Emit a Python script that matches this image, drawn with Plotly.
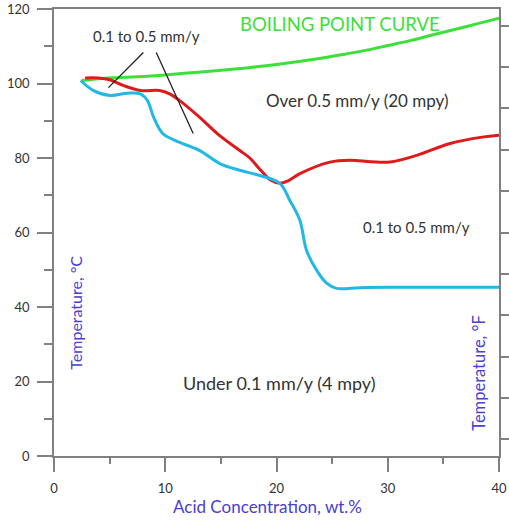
import plotly.graph_objects as go

# Boiling point curve
bp_x = [2.5, 4, 6, 8, 10, 12, 14, 16, 18, 20, 22, 24, 26, 28, 30, 32, 34, 36, 38, 40]
bp_y = [100.8, 101.3, 101.6, 101.9, 102.3, 102.8, 103.3, 103.8, 104.4, 105.1, 105.9, 106.8,
        107.8, 108.9, 110.2, 111.5, 113.0, 114.5, 116.0, 117.5]

# 0.5 mm/y iso-corrosion curve (red)
red_x = [2.8, 4.0, 5.0, 6.2, 7.8, 9.5, 10.4, 11.3, 13.1, 14.7, 16.7, 17.6, 18.5, 19.5, 20.3,
         21.0, 22.1, 24.8, 26.6, 28.5, 30.2, 32.6, 35.6, 38.5, 40.0]
red_y = [101.5, 101.5, 101.0, 99.5, 98.1, 98.1, 97.2, 95.4, 90.9, 86.5, 82.0, 80.0, 77.0, 74.0,
         73.2, 73.8, 75.8, 78.9, 79.4, 79.0, 78.9, 80.7, 83.9, 85.6, 86.1]

# 0.1 mm/y iso-corrosion curve (blue)
blue_x = [2.4, 3.55, 5.07, 6.6, 7.76, 8.4, 8.95, 9.8, 11.3, 13.1, 14.9, 16.7, 18.5, 20.3, 21.2,
          22.1, 22.7, 23.6, 24.5, 25.4, 27.5, 30, 35, 40]
blue_y = [100.8, 98.1, 96.8, 97.4, 97.2, 95.4, 91.0, 86.5, 84.2, 82.0, 78.5, 76.7, 75.3, 73.2,
          68.6, 63.3, 55.2, 49.9, 46.4, 45.0, 45.2, 45.3, 45.3, 45.3]

# Region labels
label_text = ["BOILING POINT CURVE", "0.1 to 0.5 mm/y", "Over 0.5 mm/y (20 mpy)",
              "0.1 to 0.5 mm/y", "Under 0.1 mm/y (4 mpy)"]
label_x = [25.7, 8.3, 27.3, 32.6, 20.3]
label_y = [116.1, 112.8, 95.4, 61.6, 19.6]
label_size = [18.5, 15, 17, 15, 18]

# Leader lines (x0, y0, x1, y1)
leaders = [(8.03, 108.3, 4.89, 98.9), (9.19, 108.3, 12.51, 86.6)]

fahrenheit_ticks = list(range(40, 241, 20))

font_family = "Lato, 'Open Sans', sans-serif"
axis_title_color = "#4a40d2"
text_color = "#333333"
axis_color = "#808080"
green = "#3ddf3a"

fig = go.Figure()
fig.add_trace(go.Scatter(x=bp_x, y=bp_y, mode="lines", line=dict(color=green, width=3, shape="spline"),
                         showlegend=False, hoverinfo="skip"))
fig.add_trace(go.Scatter(x=red_x, y=red_y, mode="lines", line=dict(color="#e01a1c", width=3, shape="spline"),
                         showlegend=False, hoverinfo="skip"))
fig.add_trace(go.Scatter(x=blue_x, y=blue_y, mode="lines", line=dict(color="#22b8e6", width=3, shape="spline"),
                         showlegend=False, hoverinfo="skip"))
# dummy trace to anchor the Fahrenheit axis
fig.add_trace(go.Scatter(x=[None], y=[None], yaxis="y2", showlegend=False, hoverinfo="skip"))

for i, (t, x, y, s) in enumerate(zip(label_text, label_x, label_y, label_size)):
    color = green if i == 0 else text_color
    fig.add_annotation(x=x, y=y, text=t, showarrow=False,
                       font=dict(family=font_family, size=s, color=color))

for x0, y0, x1, y1 in leaders:
    fig.add_shape(type="line", x0=x0, y0=y0, x1=x1, y1=y1, line=dict(color="#222222", width=1.3))

fig.add_annotation(x=1.93, y=38.6, text="Temperature, °C", textangle=-90, showarrow=False,
                   font=dict(family=font_family, size=16, color=axis_title_color))
fig.add_annotation(x=38.25, y=22.2, text="Temperature, °F", textangle=-90, showarrow=False,
                   font=dict(family=font_family, size=16.5, color=axis_title_color))
fig.add_annotation(xref="paper", yref="paper", x=0.479, y=-0.114, text="Acid Concentration, wt.%",
                   showarrow=False, yanchor="middle",
                   font=dict(family=font_family, size=17, color=axis_title_color))

fig.update_layout(
    width=509, height=522,
    margin=dict(l=54, r=10, t=9, b=66),
    paper_bgcolor="white", plot_bgcolor="white",
    font=dict(family=font_family, color=text_color, size=12),
    xaxis=dict(range=[0, 40], tickvals=[0, 10, 20, 30, 40], showgrid=False, zeroline=False,
               automargin=False,
               showline=True, linecolor=axis_color, linewidth=1.5, mirror=True,
               ticks="outside", ticklen=14, tickwidth=1.5, tickcolor=axis_color,
               ticklabelstandoff=6, ticklabeloverflow="allow",
               minor=dict(dtick=5, ticks="outside", ticklen=6, tickwidth=1.5, tickcolor=axis_color),
               tickfont=dict(size=13, color=text_color)),
    yaxis=dict(range=[0, 120], tickvals=[0, 20, 40, 60, 80, 100, 120], showgrid=False, zeroline=False,
               automargin=False,
               showline=True, linecolor=axis_color, linewidth=1.5,
               ticks="outside", ticklen=15, tickwidth=1.5, tickcolor=axis_color,
               ticklabelstandoff=5, ticklabeloverflow="allow",
               minor=dict(dtick=10, ticks="outside", ticklen=8, tickwidth=1.5, tickcolor=axis_color),
               tickfont=dict(size=13, color=text_color)),
    yaxis2=dict(range=[32, 248], overlaying="y", side="right", tickvals=fahrenheit_ticks,
                automargin=False,
                showticklabels=False, showgrid=False, zeroline=False,
                showline=True, linecolor=axis_color, linewidth=1.5,
                ticks="outside", ticklen=8, tickwidth=1.5, tickcolor=axis_color),
)

fig.write_html("out.html")
